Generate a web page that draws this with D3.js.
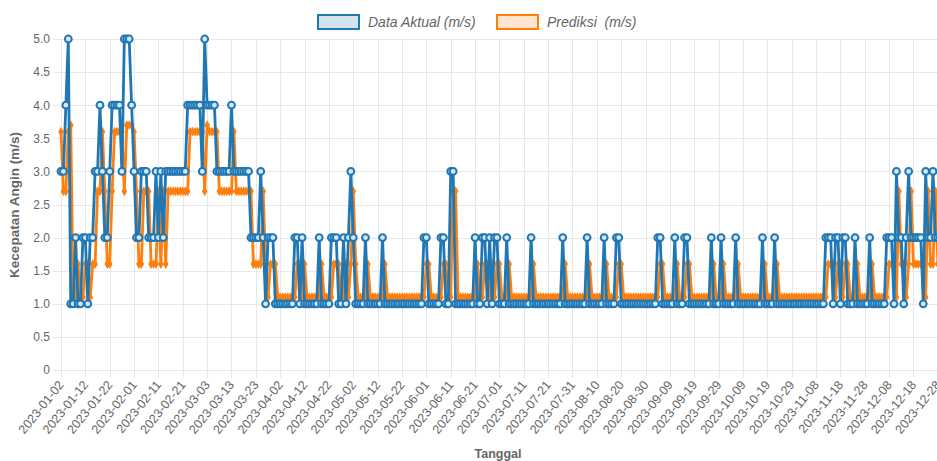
<html>
	<head>
		<meta charset="utf-8">
		<title>Kecepatan Angin 2023 - Aktual vs Prediksi</title>
		<script src="https://d3js.org/d3.v7.min.js"></script>
		<style>
			html, body { margin: 0; padding: 0; overflow: hidden; background: #fff; }
			#chart text { font-family: "Liberation Sans", Arial, Helvetica, sans-serif; fill: #666; }
		</style>
	</head>
	<body>
		<div id="chart"></div>

	<script type="text/javascript">
		// daily wind speed, starting 2023-01-02
		var startDate = new Date(2023, 0, 2);

		var actual = [
			3,3,4,5,1,1,2,1,1,2, 2,1,2,2,3,3,4,3,2,2, 3,4,4,4,4,3,5,5,5,4,
			3,2,2,3,3,3,2,2,2,3, 2,3,2,3,3,3,3,3,3,3, 3,3,4,4,4,4,4,4,3,5,
			4,4,4,4,3,3,3,3,3,3, 4,3,3,3,3,3,3,3,2,2, 2,2,3,2,1,2,2,2,1,1,
			1,1,1,1,1,1,2,2,1,2, 1,1,1,1,1,1,2,1,1,1, 1,2,2,2,1,1,2,1,2,3,
			2,1,1,1,1,2,1,1,1,1, 1,1,2,1,1,1,1,1,1,1, 1,1,1,1,1,1,1,1,1,2,
			2,1,1,1,1,1,2,2,1,1, 3,3,1,1,1,1,1,1,1,1, 2,1,1,2,2,1,2,1,2,2,
			1,1,1,2,1,1,1,1,1,1, 1,1,1,2,1,1,1,1,1,1, 1,1,1,1,1,1,2,1,1,1,
			1,1,1,1,1,1,2,1,1,1, 1,1,1,2,1,1,1,1,2,2, 1,1,1,1,1,1,1,1,1,1,
			1,1,1,1,1,2,2,1,1,1, 1,1,2,1,1,1,2,2,1,1, 1,1,1,1,1,1,1,2,1,1,
			1,2,1,1,1,1,1,2,1,1, 1,1,1,1,1,1,1,1,2,1, 1,1,1,2,1,1,1,1,1,1,
			1,1,1,1,1,1,1,1,1,1, 1,1,1,1,2,2,2,1,2,2, 1,2,2,1,1,1,2,1,1,1,
			1,1,2,1,1,1,1,1,1,2, 2,2,1,3,2,2,1,2,3,2, 2,2,2,2,1,3,2,2,3,2,
			2,2,3,2
		];

		var predicted = [
			3.6,2.7,2.7,3.6,3.7,1.1,1.1,1.6,1.1,1.1, 1.6,1.6,1.1,1.6,1.6,2.7,2.7,3.6,2.7,1.6,
			1.6,2.7,3.6,3.6,3.6,3.6,2.7,3.7,3.7,3.7, 3.6,2.7,1.6,1.6,2.7,2.7,2.7,1.6,1.6,1.6,
			2.7,1.6,2.7,1.6,2.7,2.7,2.7,2.7,2.7,2.7, 2.7,2.7,2.7,3.6,3.6,3.6,3.6,3.6,3.6,2.7,
			3.7,3.6,3.6,3.6,3.6,2.7,2.7,2.7,2.7,2.7, 2.7,3.6,2.7,2.7,2.7,2.7,2.7,2.7,2.7,1.6,
			1.6,1.6,1.6,2.7,1.6,1.1,1.6,1.6,1.6,1.1, 1.1,1.1,1.1,1.1,1.1,1.1,1.1,1.6,1.6,1.1,
			1.6,1.1,1.1,1.1,1.1,1.1,1.1,1.6,1.1,1.1, 1.1,1.1,1.6,1.6,1.6,1.1,1.1,1.6,1.1,1.6,
			2.7,1.6,1.1,1.1,1.1,1.1,1.6,1.1,1.1,1.1, 1.1,1.1,1.1,1.6,1.1,1.1,1.1,1.1,1.1,1.1,
			1.1,1.1,1.1,1.1,1.1,1.1,1.1,1.1,1.1,1.1, 1.6,1.6,1.1,1.1,1.1,1.1,1.1,1.6,1.6,1.1,
			1.1,2.7,2.7,1.1,1.1,1.1,1.1,1.1,1.1,1.1, 1.1,1.6,1.1,1.1,1.6,1.6,1.1,1.6,1.1,1.6,
			1.6,1.1,1.1,1.1,1.6,1.1,1.1,1.1,1.1,1.1, 1.1,1.1,1.1,1.1,1.6,1.1,1.1,1.1,1.1,1.1,
			1.1,1.1,1.1,1.1,1.1,1.1,1.1,1.6,1.1,1.1, 1.1,1.1,1.1,1.1,1.1,1.1,1.1,1.6,1.1,1.1,
			1.1,1.1,1.1,1.1,1.6,1.1,1.1,1.1,1.1,1.6, 1.6,1.1,1.1,1.1,1.1,1.1,1.1,1.1,1.1,1.1,
			1.1,1.1,1.1,1.1,1.1,1.1,1.6,1.6,1.1,1.1, 1.1,1.1,1.1,1.6,1.1,1.1,1.1,1.6,1.6,1.1,
			1.1,1.1,1.1,1.1,1.1,1.1,1.1,1.1,1.6,1.1, 1.1,1.1,1.6,1.1,1.1,1.1,1.1,1.1,1.6,1.1,
			1.1,1.1,1.1,1.1,1.1,1.1,1.1,1.1,1.1,1.6, 1.1,1.1,1.1,1.1,1.6,1.1,1.1,1.1,1.1,1.1,
			1.1,1.1,1.1,1.1,1.1,1.1,1.1,1.1,1.1,1.1, 1.1,1.1,1.1,1.1,1.1,1.6,1.6,1.6,1.1,1.6,
			1.6,1.1,1.6,1.6,1.1,1.1,1.1,1.6,1.1,1.1, 1.1,1.1,1.1,1.6,1.1,1.1,1.1,1.1,1.1,1.1,
			1.6,1.6,1.6,1.1,2.7,1.6,1.6,1.1,1.6,2.7, 1.6,1.6,1.6,1.6,1.6,1.1,2.7,1.6,1.6,2.7,
			1.6,1.6,1.6,2.7
		];

		var yTicks = [0, 0.5, 1, 1.5, 2, 2.5, 3, 3.5, 4, 4.5, 5];

		var seriesNames = ["Data Aktual (m/s)", "Prediksi  (m/s)"];
		var blue = "rgb(31,119,180)", orange = "rgb(255,127,14)";

		// categories: one label per day
		var fmt = d3.timeFormat("%Y-%m-%d");
		var dates = d3.timeDay.range(startDate, d3.timeDay.offset(startDate, actual.length)).map(fmt);
		var tickDates = dates.filter(function(d, i) { return i % 10 === 0; });

		////////////////////////////////////////////////////
		// GRAPH
		////////////////////////////////////////////////////
		var svgWidth = 960, svgHeight = 461;
		var plotLeft = 61, plotTop = 39, plotBottom = 370;
		var plotRight = plotLeft + 2.4357 * (dates.length - 1);

		var svg = d3.select("#chart")
		  .append("svg")
		    .attr("width", svgWidth)
		    .attr("height", svgHeight);

		var x = d3.scalePoint()
		  .domain(dates)
		  .range([plotLeft, plotRight]);

		var y = d3.scaleLinear()
		  .domain([0, 5])
		  .range([plotBottom, plotTop]);

		// grid
		var grid = svg.append("g").attr("stroke", "#e8e8e8").attr("stroke-width", 1);
		grid.selectAll(".hgrid")
		  .data(yTicks)
		  .enter()
		  .append("line")
		    .attr("x1", plotLeft - 8).attr("x2", svgWidth)
		    .attr("y1", function(d) { return Math.round(y(d)) + 0.5; })
		    .attr("y2", function(d) { return Math.round(y(d)) + 0.5; });
		grid.selectAll(".vgrid")
		  .data(tickDates)
		  .enter()
		  .append("line")
		    .attr("y1", plotTop).attr("y2", plotBottom + 8)
		    .attr("x1", function(d) { return Math.round(x(d)) + 0.5; })
		    .attr("x2", function(d) { return Math.round(x(d)) + 0.5; });

		// Y axis
		var yAxis = svg.append("g")
		  .attr("transform", "translate(" + plotLeft + ",0)")
		  .call(d3.axisLeft(y)
		    .tickValues(yTicks)
		    .tickSize(0)
		    .tickPadding(11)
		    .tickFormat(function(d) { return d === 0 ? "0" : d3.format(".1f")(d); }));
		yAxis.select(".domain").remove();
		yAxis.selectAll("text").attr("font-size", 12).attr("fill", "#666");

		// X axis
		var xAxis = svg.append("g")
		  .attr("transform", "translate(0," + plotBottom + ")")
		  .call(d3.axisBottom(x).tickValues(tickDates).tickSize(0));
		xAxis.select(".domain").remove();
		xAxis.selectAll("text")
		  .attr("font-size", 12.5)
		  .attr("fill", "#666")
		  .attr("y", 0).attr("dy", 0)
		  .attr("text-anchor", "end")
		  .attr("transform", "translate(3,15) rotate(-51)");

		// axis titles
		svg.append("text")
		  .attr("transform", "translate(19,205) rotate(-90)")
		  .attr("text-anchor", "middle")
		  .attr("font-size", 13.5)
		  .attr("font-weight", "bold")
		  .text("Kecepatan Angin (m/s)");
		svg.append("text")
		  .attr("x", 498).attr("y", 458)
		  .attr("text-anchor", "middle")
		  .attr("font-size", 12.5)
		  .attr("font-weight", "bold")
		  .text("Tanggal");

		// lines (prediction under, actual on top)
		var line = d3.line()
		  .x(function(d, i) { return x(dates[i]); })
		  .y(function(d) { return y(d); });

		svg.append("path")
		  .datum(predicted)
		  .attr("fill", "none")
		  .attr("stroke", orange)
		  .attr("stroke-width", 2.8)
		  .attr("stroke-linejoin", "round")
		  .attr("d", line);
		svg.append("g")
		  .selectAll("path")
		  .data(predicted)
		  .enter()
		  .append("path")
		    .attr("transform", function(d, i) { return "translate(" + x(dates[i]) + "," + y(d) + ")"; })
		    .attr("d", d3.symbol().type(d3.symbolDiamond).size(28))
		    .attr("fill", orange);

		svg.append("path")
		  .datum(actual)
		  .attr("fill", "none")
		  .attr("stroke", blue)
		  .attr("stroke-width", 2.8)
		  .attr("stroke-linejoin", "round")
		  .attr("d", line);
		svg.append("g")
		  .selectAll("circle")
		  .data(actual)
		  .enter()
		  .append("circle")
		    .attr("cx", function(d, i) { return x(dates[i]); })
		    .attr("cy", function(d) { return y(d); })
		    .attr("r", 3.4)
		    .attr("fill", "#d6e6f2")
		    .attr("stroke", blue)
		    .attr("stroke-width", 2);

		// legend
		var legend = svg.append("g");
		var legendX = [318, 497];
		var legendFill = ["rgba(31,119,180,0.2)", "rgba(255,127,14,0.2)"];
		var legendStroke = [blue, orange];
		seriesNames.forEach(function(name, i) {
			legend.append("rect")
			  .attr("x", legendX[i]).attr("y", 15)
			  .attr("width", 41).attr("height", 14)
			  .attr("fill", legendFill[i])
			  .attr("stroke", legendStroke[i])
			  .attr("stroke-width", 2);
			legend.append("text")
			  .attr("x", legendX[i] + 50).attr("y", 27)
			  .attr("font-size", 14)
			  .attr("font-style", "italic")
			  .attr("fill", "#666")
			  .style("white-space", "pre")
			  .text(name);
		});
	</script>

	</body>
</html>
